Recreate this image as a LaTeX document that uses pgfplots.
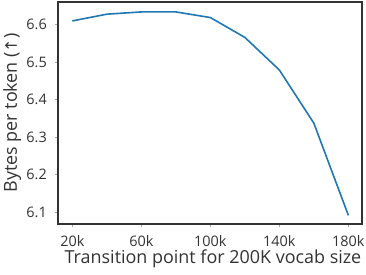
\documentclass[border=0pt]{standalone}
\usepackage{fontspec}
\setmainfont{Open Sans}
\newfontfamily\symfont{DejaVu Sans}
\usepackage{pgfplots}
\pgfplotsset{compat=1.18}
\definecolor{lineblue}{HTML}{1F77B4}
\definecolor{txt}{HTML}{333333}
\begin{document}
\begin{tikzpicture}
\begin{axis}[
  scale only axis,
  width=304bp, height=222bp,
  xmin=11.7, xmax=187.9,
  ymin=6.068, ymax=6.6605,
  xtick={20,60,100,140,180},
  xticklabels={20k,60k,100k,140k,180k},
  ytick={6.1,6.2,6.3,6.4,6.5,6.6},
  yticklabel style={/pgf/number format/fixed, /pgf/number format/fixed zerofill, /pgf/number format/precision=1},
  /pgf/number format/assume math mode=true,
  tick align=outside,
  tick pos=left,
  major tick length=3bp,
  tick style={gray!70, line width=0.8bp},
  axis line style={txt, line width=1.8bp},
  ticklabel style={font=\fontsize{14.5}{16}\selectfont, text=txt, inner sep=0pt},
  xticklabel style={anchor=base, yshift=-19.5bp},
  yticklabel style={anchor=east, xshift=-8bp},
  label style={font=\fontsize{18}{20}\selectfont, text=txt, inner sep=0pt},
  xlabel={Transition point for 200K vocab size},
  ylabel={Bytes per token ({\symfont\fontsize{16}{18}\selectfont ↑})},
  xlabel style={at={(axis description cs:0.5,0)}, anchor=base, yshift=-39.5bp, xshift=3bp},
  ylabel style={at={(axis description cs:0,0.5)}, anchor=base, yshift=41bp},
]
\addplot[lineblue, line width=1.6bp] coordinates {
(20,6.610) (40,6.628) (60,6.634) (80,6.634) (100,6.619) (120,6.566) (140,6.479) (160,6.337) (180,6.091)
};
\coordinate (a) at (rel axis cs:0,0);
\coordinate (b) at (rel axis cs:1,1);
\end{axis}
\pgfresetboundingbox
\path ([shift={(-58bp,-51bp)}]a) rectangle ([shift={(4bp,2bp)}]b);
\end{tikzpicture}
\end{document}
